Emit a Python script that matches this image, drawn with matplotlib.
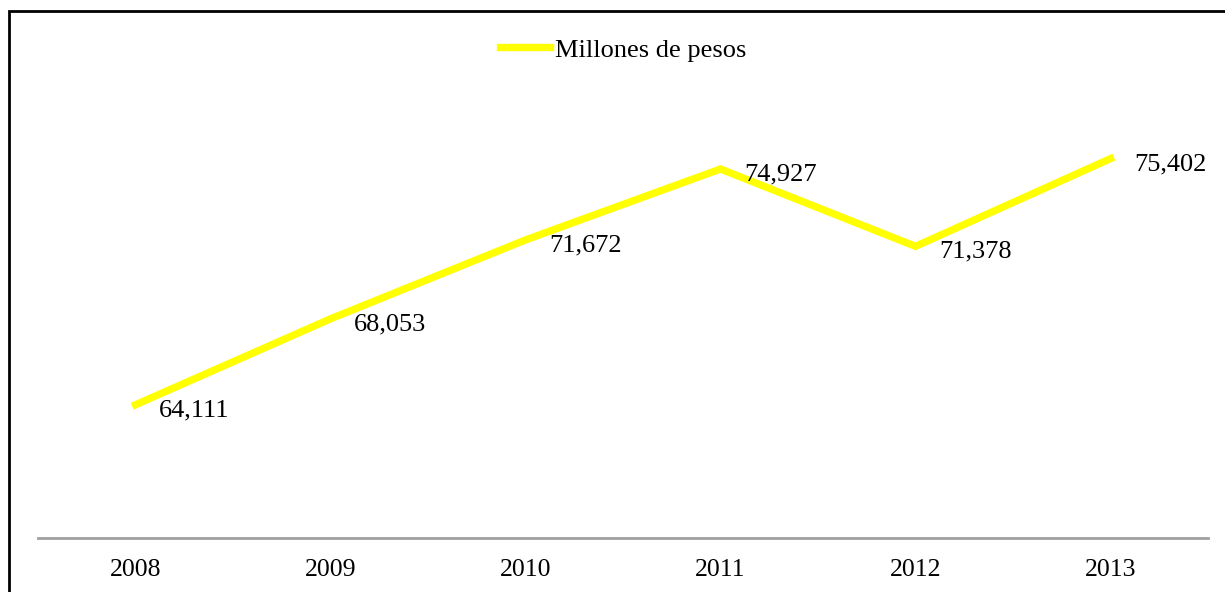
import matplotlib
matplotlib.use("Agg")
import matplotlib.pyplot as plt
from matplotlib.patches import Rectangle

years = ["2008", "2009", "2010", "2011", "2012", "2013"]
values = [64111, 68053, 71672, 74927, 71378, 75402]
series_name = "Millones de pesos"

W, H = 1225, 592
fig = plt.figure(figsize=(W / 100, H / 100), dpi=100)
plt.rcParams['font.family'] = ['Liberation Serif', 'DejaVu Serif']

# axes: x 38..1208 px, y 102..538 px (from top)
ax = fig.add_axes([38 / W, (H - 538) / H, (1208 - 38) / W, (538 - 102) / H])
x = list(range(len(years)))
ax.plot(x, values, color='#FFFF00', lw=5.3, solid_joinstyle='miter', label=series_name, zorder=3)
ax.set_xlim(-0.5, len(years) - 0.5)
ax.set_ylim(58000, 78000)
for s in ['top', 'right', 'left']:
    ax.spines[s].set_visible(False)
ax.spines['bottom'].set_color('#A0A0A0')
ax.spines['bottom'].set_linewidth(2)
ax.set_yticks([])
ax.set_xticks(x)
ax.set_xticklabels(years, fontsize=18.5)
ax.tick_params(axis='x', length=0, pad=15)

for xi, v in zip(x, values):
    ax.annotate(f"{v:,}", (xi, v), xytext=(17, -4), textcoords='offset points',
                ha='left', va='center', fontsize=19)

leg = ax.legend(loc='center', bbox_to_anchor=(0.5, 1 + (102 - 50) / (538 - 102)),
                frameon=False, fontsize=19, handlelength=1.9, handletextpad=0.2)

fig.patches.append(Rectangle((9 / W, -0.1), 1.2, (H - 11) / H + 0.1, transform=fig.transFigure,
                             fill=False, edgecolor='black', lw=2, zorder=0))

fig.savefig("out.png", dpi=100)
